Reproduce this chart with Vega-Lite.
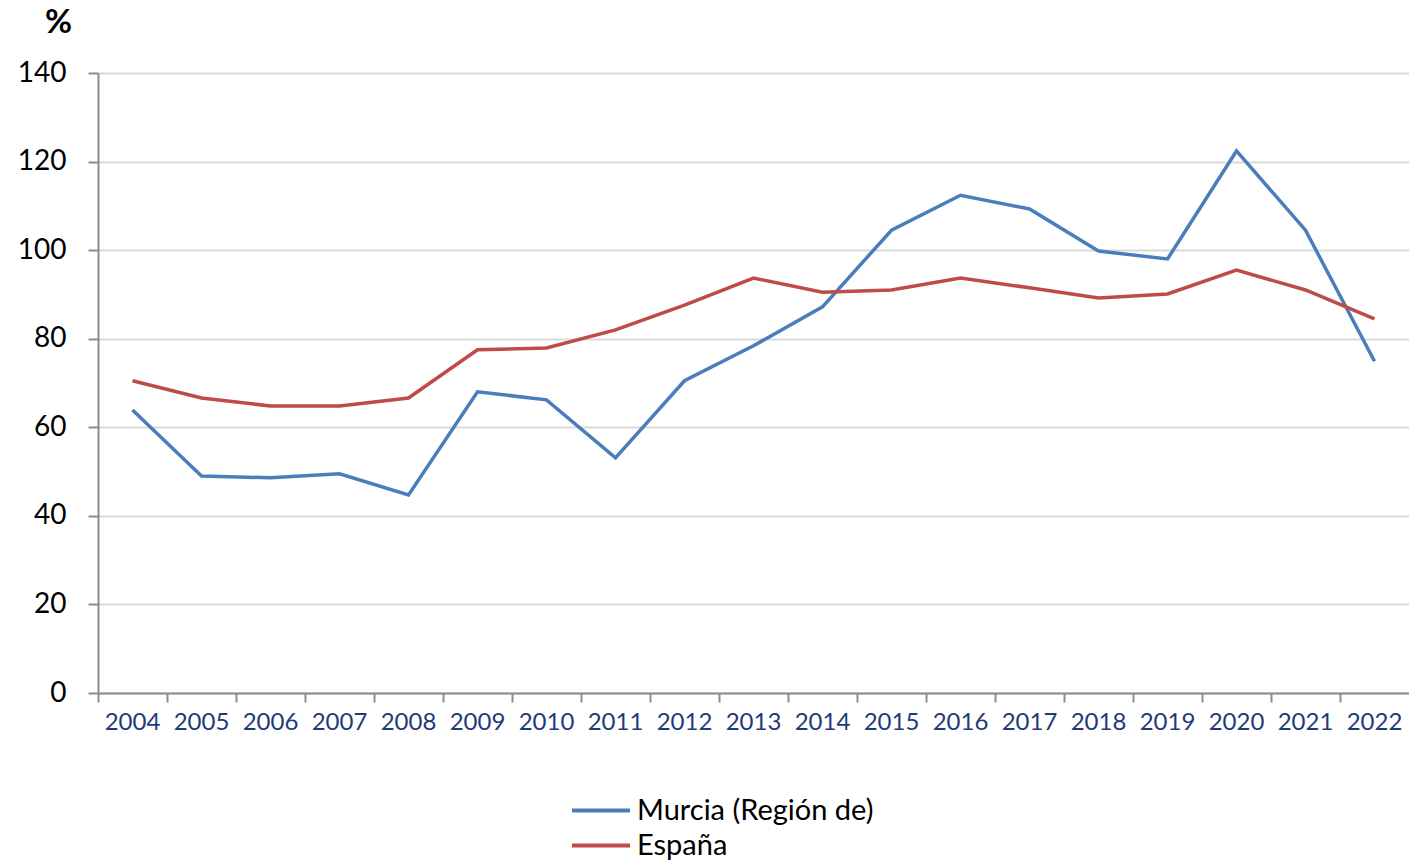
{
  "$schema": "https://vega.github.io/schema/vega-lite/v6.json",
  "width": 1311,
  "height": 620,
  "autosize": {"type": "none"},
  "padding": {"left": 98, "top": 73, "right": 0, "bottom": 171},
  "background": "white",
  "config": {"view": {"stroke": null}, "font": "Lato"},
  "data": {"values": [
    {"year": "2004", "serie": "Murcia (Región de)", "v": 63.9},
    {"year": "2005", "serie": "Murcia (Región de)", "v": 49.0},
    {"year": "2006", "serie": "Murcia (Región de)", "v": 48.6},
    {"year": "2007", "serie": "Murcia (Región de)", "v": 49.5},
    {"year": "2008", "serie": "Murcia (Región de)", "v": 44.7},
    {"year": "2009", "serie": "Murcia (Región de)", "v": 68.0},
    {"year": "2010", "serie": "Murcia (Región de)", "v": 66.2},
    {"year": "2011", "serie": "Murcia (Región de)", "v": 53.1},
    {"year": "2012", "serie": "Murcia (Región de)", "v": 70.5},
    {"year": "2013", "serie": "Murcia (Región de)", "v": 78.4},
    {"year": "2014", "serie": "Murcia (Región de)", "v": 87.2},
    {"year": "2015", "serie": "Murcia (Región de)", "v": 104.5},
    {"year": "2016", "serie": "Murcia (Región de)", "v": 112.4},
    {"year": "2017", "serie": "Murcia (Región de)", "v": 109.3},
    {"year": "2018", "serie": "Murcia (Región de)", "v": 99.8},
    {"year": "2019", "serie": "Murcia (Región de)", "v": 98.0},
    {"year": "2020", "serie": "Murcia (Región de)", "v": 122.4},
    {"year": "2021", "serie": "Murcia (Región de)", "v": 104.5},
    {"year": "2022", "serie": "Murcia (Región de)", "v": 74.9},
    {"year": "2004", "serie": "España", "v": 70.5},
    {"year": "2005", "serie": "España", "v": 66.6},
    {"year": "2006", "serie": "España", "v": 64.8},
    {"year": "2007", "serie": "España", "v": 64.8},
    {"year": "2008", "serie": "España", "v": 66.6},
    {"year": "2009", "serie": "España", "v": 77.5},
    {"year": "2010", "serie": "España", "v": 77.9},
    {"year": "2011", "serie": "España", "v": 82.0},
    {"year": "2012", "serie": "España", "v": 87.6},
    {"year": "2013", "serie": "España", "v": 93.7},
    {"year": "2014", "serie": "España", "v": 90.5},
    {"year": "2015", "serie": "España", "v": 91.0},
    {"year": "2016", "serie": "España", "v": 93.7},
    {"year": "2017", "serie": "España", "v": 91.5},
    {"year": "2018", "serie": "España", "v": 89.2},
    {"year": "2019", "serie": "España", "v": 90.1},
    {"year": "2020", "serie": "España", "v": 95.5},
    {"year": "2021", "serie": "España", "v": 91.0},
    {"year": "2022", "serie": "España", "v": 84.5}
  ]},
  "mark": {"type": "line", "strokeWidth": 3.5},
  "encoding": {
    "x": {
      "field": "year", "type": "ordinal",
      "scale": {"type": "band", "paddingInner": 0, "paddingOuter": 0},
      "axis": {
        "title": null, "bandPosition": 0, "labelAngle": 0,
        "domainColor": "#8c8c8c", "domainWidth": 2, "tickColor": "#8c8c8c", "tickWidth": 2, "tickSize": 9,
        "labelColor": "#1f3a78", "labelFontSize": 24, "labelPadding": 8, "labelFont": "Lato"
      }
    },
    "y": {
      "field": "v", "type": "quantitative",
      "scale": {"domain": [0, 140], "nice": false},
      "axis": {
        "values": [0, 20, 40, 60, 80, 100, 120, 140],
        "title": "%", "titleAngle": 0, "titleX": -40, "titleY": -51, "titleAlign": "center", "titleBaseline": "middle",
        "titleFontSize": 33, "titleFontWeight": "bold", "titleColor": "black", "titleFont": "Lato",
        "domainColor": "#8c8c8c", "domainWidth": 2, "tickColor": "#8c8c8c", "tickWidth": 2, "tickSize": 10,
        "gridColor": "#d9d9d9", "gridWidth": 2,
        "labelColor": "black", "labelFontSize": 28, "labelPadding": 22, "labelFont": "Lato"
      }
    },
    "color": {
      "field": "serie", "type": "nominal",
      "scale": {"domain": ["Murcia (Región de)", "España"], "range": ["#4a7ebb", "#be4b48"]},
      "legend": {
        "title": null, "orient": "none", "legendX": 472, "legendY": 720, "direction": "vertical",
        "symbolType": "stroke", "symbolSize": 3364, "symbolStrokeWidth": 4, "clipHeight": 35, "rowPadding": 0,
        "labelFontSize": 29, "labelColor": "black", "labelFont": "Lato", "labelOffset": 5, "labelLimit": 500
      }
    }
  }
}
